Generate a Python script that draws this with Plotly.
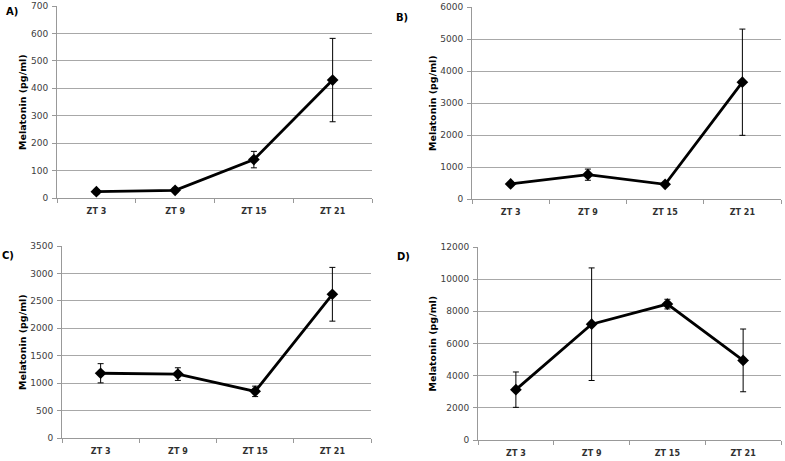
import plotly.graph_objects as go

W, H = 785, 461
categories = ["ZT 3", "ZT 9", "ZT 15", "ZT 21"]

a_vals = [23, 28, 140, 430]
a_err = [8, 8, 30, 152]
b_vals = [470, 760, 460, 3650]
b_err = [50, 175, 50, 1660]
c_vals = [1180, 1165, 850, 2620]
c_err = [175, 115, 95, 490]
d_vals = [3130, 7200, 8450, 4950]
d_err = [1100, 3500, 300, 1950]

y_ranges = [(0, 700, 100), (0, 6000, 1000), (0, 3500, 500), (0, 12000, 2000)]
panel_labels = ["A)", "B)", "C)", "D)"]

# pixel boxes: x0, x1, ytop, ybottom
boxes = [(57, 372, 6, 198), (472, 781, 7, 199), (62, 371, 246, 438), (478, 781, 247, 440)]
label_pos = [(12, 12), (402, 17), (8, 255), (403, 256)]
title_x = [22, 432, 22, 432]

fig = go.Figure()
series = [(a_vals, a_err), (b_vals, b_err), (c_vals, c_err), (d_vals, d_err)]
font_tick = dict(family="DejaVu Sans", size=9, color="#404040")

for i, ((vals, errs), box, yr) in enumerate(zip(series, boxes, y_ranges)):
    n = "" if i == 0 else str(i + 1)
    fig.add_trace(go.Scatter(
        x=categories, y=vals, mode="lines+markers",
        line=dict(color="black", width=2.8),
        marker=dict(symbol="diamond", size=9, color="black"),
        error_y=dict(type="data", array=errs, visible=True, color="black", thickness=1, width=3),
        xaxis="x" + n, yaxis="y" + n, showlegend=False, hoverinfo="skip",
    ))
    x0, x1, yt, yb = box
    fig.layout["xaxis" + n] = dict(
        domain=[x0 / W, x1 / W], anchor="y" + n, type="category", automargin=False,
        showgrid=False, showline=True, linecolor="#999999", linewidth=1,
        ticks="outside", tickson="boundaries", ticklen=4, tickcolor="#999999",
        ticklabelstandoff=5,
        tickfont=dict(family="DejaVu Sans", size=8, color="#303030", weight="bold"),
        range=[-0.5, 3.5], fixedrange=True,
    )
    fig.layout["yaxis" + n] = dict(
        domain=[1 - yb / H, 1 - yt / H], anchor="x" + n, automargin=False,
        range=[yr[0], yr[1]], dtick=yr[2], tickformat="d",
        showgrid=True, gridcolor="#a8a8a8", gridwidth=1,
        showline=True, linecolor="#999999", linewidth=1,
        ticks="outside", ticklen=4, tickcolor="#999999", ticklabelstandoff=2,
        tickfont=font_tick, zeroline=False, fixedrange=True,
    )
    lx, ly = label_pos[i]
    fig.add_annotation(x=lx / W, y=1 - ly / H, xref="paper", yref="paper",
                       xanchor="center", yanchor="middle",
                       text="<b>" + panel_labels[i] + "</b>", showarrow=False,
                       font=dict(family="DejaVu Sans", size=10, color="black"))
    fig.add_annotation(x=title_x[i] / W, y=1 - (yt + yb) / 2 / H, xref="paper", yref="paper",
                       xanchor="center", yanchor="middle",
                       text="<b>Melatonin (pg/ml)</b>", showarrow=False, textangle=-90,
                       font=dict(family="DejaVu Sans", size=9.5, color="black"))

fig.update_layout(width=W, height=H, margin=dict(l=0, r=0, t=0, b=0, autoexpand=False),
                  plot_bgcolor="white", paper_bgcolor="white")
fig.write_html("out.html", config={"displayModeBar": False},
               post_script="document.body.style.margin='0';document.body.style.padding='0';")
